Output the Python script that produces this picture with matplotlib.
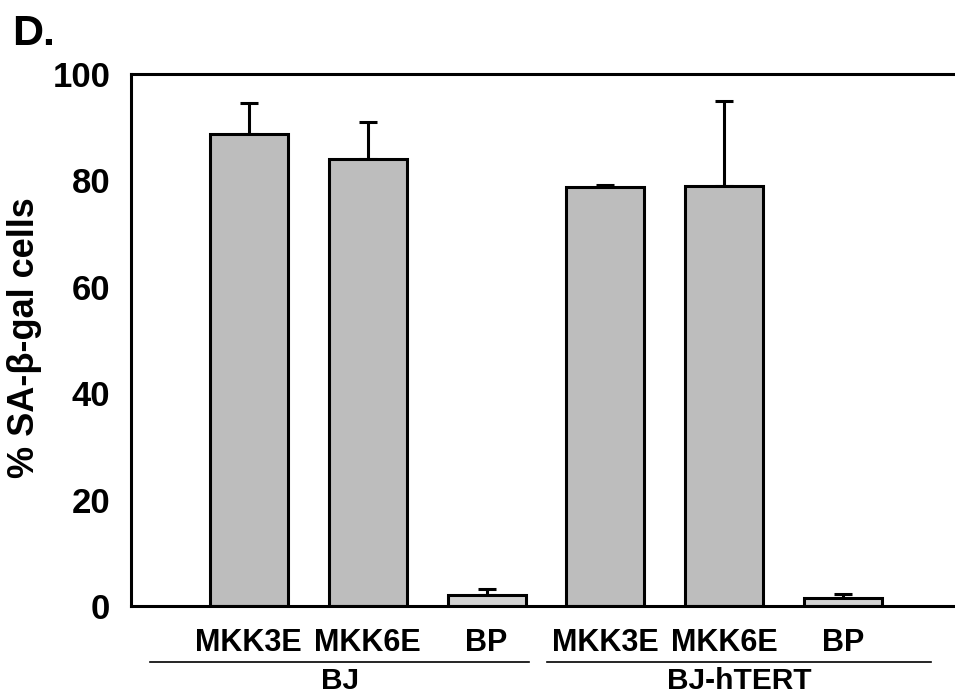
import numpy as np
import matplotlib
matplotlib.use("Agg")
import matplotlib.pyplot as plt
from matplotlib import transforms

plt.rcParams['font.family'] = ['Liberation Sans', 'DejaVu Sans']
plt.rcParams['font.weight'] = 'bold'

# data
labels = ['MKK3E', 'MKK6E', 'BP', 'MKK3E', 'MKK6E', 'BP']
values = [88.8, 84.0, 2.1, 78.8, 78.9, 1.5]
errors = [5.7, 7.0, 1.1, 0.4, 16.0, 0.7]
groups = ['BJ', 'BJ-hTERT']
group_spans = [(-0.83, 2.36), (2.51, 5.74)]
colors = ['#bdbdbd', '#bdbdbd', '#d2d2d2', '#bdbdbd', '#bdbdbd', '#d2d2d2']

fig = plt.figure(figsize=(9.55, 6.96), dpi=100)
ax = fig.add_axes([0.1372, 0.1293, 0.8628, 0.7644])

x = np.arange(len(values))
lw = 2.2
ax.bar(x, values, width=0.656, color=colors, edgecolor='black', linewidth=lw, zorder=2)
ax.errorbar(x, values, yerr=[np.zeros(len(errors)), errors], fmt='none',
            ecolor='black', elinewidth=lw, capsize=6.5, capthick=lw, zorder=1)

ax.set_xlim(-0.99, 5.94)
ax.set_ylim(0, 100)
ax.set_yticks([0, 20, 40, 60, 80, 100])
ax.tick_params(axis='y', length=0, pad=15, labelsize=25)
ax.set_xticks(x)
ax.set_xticklabels(labels)
ax.tick_params(axis='x', length=0, pad=16, labelsize=22)
for s in ['left', 'top', 'bottom']:
    ax.spines[s].set_linewidth(lw)
ax.spines['right'].set_visible(False)

fig.text(25 / 955, 1 - 338 / 696, '% SA-\u03b2-gal cells', rotation=90,
         ha='center', va='center', fontsize=26, fontweight='bold')

trans = transforms.blended_transform_factory(ax.transData, ax.transAxes)
ftrans = transforms.blended_transform_factory(ax.transData, fig.transFigure)
for name, (a, b) in zip(groups, group_spans):
    ax.plot([a, b], [-0.105, -0.105], color='black', lw=1.2, transform=trans, clip_on=False)
    ax.text((a + b) / 2, 1.0 / 696, name, transform=ftrans,
            ha='center', va='bottom', fontsize=21.5, fontweight='bold')

fig.text(0.013, 1 - 45 / 696, 'D.', fontsize=31, fontweight='bold', ha='left', va='baseline')

fig.savefig('out.png', dpi=100)
